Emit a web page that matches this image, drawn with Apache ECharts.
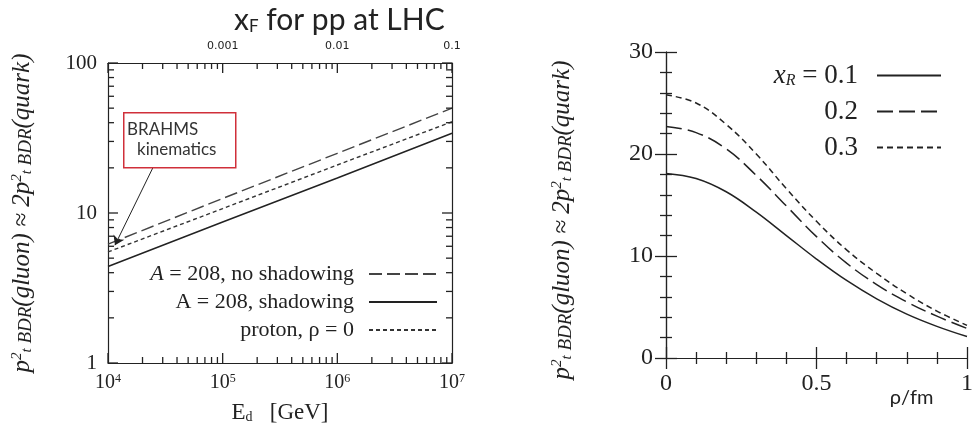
<!DOCTYPE html>
<html>
<head>
<meta charset="utf-8">
<script src="https://cdn.jsdelivr.net/npm/echarts@6/dist/echarts.min.js"></script>
<style>
  html, body { margin: 0; padding: 0; background: #fff; }
  #main { width: 976px; height: 433px; }
</style>
</head>
<body>
<div id="main"></div>
<script>
// left panel: Ed [GeV] vs pt^2 (log-log)
var ed = [1e4, 1e5, 1e6, 1e7];
var noShadow = [6.2, 12.5, 25, 50];
var shadow = [4.4, 8.7, 17.1, 34];
var proton = [5.5, 10.7, 20.9, 40.6];
var xfLabels = {'-3': '0.001', '-2': '0.01', '-1': '0.1'};
var edMajor = [1e4, 1e5, 1e6, 1e7];
var yMajor = [1, 10, 100];

// right panel: rho/fm
var rho = [0, 0.1, 0.2, 0.3, 0.4, 0.5, 0.6, 0.7, 0.8, 0.9, 1.0];
var xr1 = [18.1, 17.6, 16.3, 14.3, 12.0, 9.7, 7.6, 5.8, 4.3, 3.1, 2.1];
var xr2 = [22.7, 22.1, 20.5, 17.9, 14.9, 11.9, 9.3, 7.2, 5.5, 4.1, 2.9];
var xr3 = [25.8, 25.0, 22.9, 20.0, 16.6, 13.4, 10.6, 8.3, 6.3, 4.6, 3.2];

function pairs(xs, ys) {
  return xs.map(function (x, i) { return [x, ys[i]]; });
}
// 2..9 inside every decade, for the small log ticks
function minors(lo, decades) {
  var out = [];
  for (var d = 0; d < decades; d++) {
    for (var k = 2; k <= 9; k++) out.push(lo * Math.pow(10, d) * k);
  }
  return out;
}

var ink = '#222';
var serif = 'Liberation Serif';
var tw = 1.3;

// tick marks of the log frame, as thin bars sitting on the frame edges
var frameTicks = [];
function addX(vals, len) {
  vals.forEach(function (v) {
    frameTicks.push({ value: [v, 1], symbolSize: [tw, len], symbolOffset: [0, -len / 2] });
    frameTicks.push({ value: [v, 100], symbolSize: [tw, len], symbolOffset: [0, len / 2] });
  });
}
function addY(vals, len) {
  vals.forEach(function (v) {
    frameTicks.push({ value: [1e4, v], symbolSize: [len, tw], symbolOffset: [len / 2, 0] });
    frameTicks.push({ value: [1e7, v], symbolSize: [len, tw], symbolOffset: [-len / 2, 0] });
  });
}
addX(edMajor, 10); addX(minors(1e4, 3), 6);
addY(yMajor, 10); addY(minors(1, 2), 6);

var tick = { show: true, inside: true, length: 11, lineStyle: { color: ink, width: tw } };
var minor = { show: true, length: 6, splitNumber: 5, lineStyle: { color: ink, width: tw } };
var line = { lineStyle: { color: ink, width: 1.2 } };
var yName = '{p|p}{sup|2}{sub|t}{b| BDR}{p|(gluon) ≈ 2p}{sup|2}{sub|t}{b| BDR}{p|(quark)}';
function yNameStyle(pad) {
  return {
    fontFamily: serif, fontStyle: 'italic', color: ink, padding: pad,
    rich: {
      p: { fontSize: 25, fontFamily: serif, fontStyle: 'italic', color: ink },
      b: { fontSize: 19, fontFamily: serif, fontStyle: 'italic', color: ink, verticalAlign: 'bottom' },
      sup: { fontSize: 15, fontFamily: serif, fontStyle: 'italic', color: ink, verticalAlign: 'top' },
      sub: { fontSize: 15, fontFamily: serif, fontStyle: 'italic', color: ink, verticalAlign: 'bottom' }
    }
  };
}

var myChart = echarts.init(document.getElementById('main'));
var option = {
  animation: false,
  backgroundColor: '#fff',
  title: {
    text: '{a|x}{f|F}{a| for pp at LHC}',
    left: 229, top: 0,
    textStyle: {
      fontWeight: 'normal',
      rich: {
        a: { fontFamily: 'Lato', fontSize: 30, fontWeight: 'normal', color: ink },
        f: { fontFamily: 'Lato', fontSize: 17, fontWeight: 'normal', color: ink, verticalAlign: 'bottom' }
      }
    }
  },
  grid: [
    { left: 108, top: 63, width: 344, height: 300 },
    { left: 666, top: 52, right: 1, height: 306 }
  ],
  xAxis: [
    {
      type: 'log', gridIndex: 0, min: 1e4, max: 1e7, position: 'bottom',
      axisLine: line, axisTick: { show: false }, splitLine: { show: false },
      axisLabel: {
        margin: 10,
        formatter: function (v) { return '{b|10}{s|' + Math.round(Math.log10(v)) + '}'; },
        rich: {
          b: { fontFamily: serif, fontSize: 20, color: ink },
          s: { fontFamily: serif, fontSize: 12, color: ink, verticalAlign: 'top' }
        }
      },
      name: '{e|E}{d|d}{e|   [GeV]}', nameLocation: 'middle', nameGap: 38,
      nameTextStyle: {
        rich: {
          e: { fontFamily: serif, fontSize: 23, color: ink },
          d: { fontFamily: serif, fontSize: 14, color: ink, verticalAlign: 'bottom' }
        }
      }
    },
    {
      type: 'log', gridIndex: 0, min: 1e-4, max: 0.1, position: 'top',
      axisLine: line, axisTick: { show: false }, splitLine: { show: false },
      axisLabel: {
        margin: 11, fontFamily: 'DejaVu Sans', fontSize: 11, color: ink,
        formatter: function (v) { return xfLabels[Math.round(Math.log10(v))] || ''; }
      }
    },
    {
      type: 'value', gridIndex: 1, min: 0, max: 1, interval: 0.5, position: 'bottom',
      axisLine: line, axisTick: tick, minorTick: minor, splitLine: { show: false },
      axisLabel: { margin: 14, fontFamily: serif, fontSize: 24, color: ink },
      name: 'ρ/fm', nameLocation: 'middle', nameGap: 30, nameMoveOverlap: false,
      nameTextStyle: { fontFamily: 'Lato', fontSize: 20, color: ink, padding: [0, 0, 0, 190] }
    },
    {
      type: 'value', gridIndex: 1, min: 0, max: 1, interval: 0.5, position: 'top',
      axisLine: line, axisTick: tick, minorTick: minor, splitLine: { show: false },
      axisLabel: { show: false }
    }
  ],
  yAxis: [
    {
      type: 'log', gridIndex: 0, min: 1, max: 100, position: 'left',
      axisLine: line, axisTick: { show: false }, splitLine: { show: false },
      axisLabel: { margin: 11, fontFamily: serif, fontSize: 21, color: ink },
      name: yName, nameLocation: 'middle', nameRotate: 90, nameGap: 73,
      nameTextStyle: yNameStyle([0, 0, 0, 0])
    },
    {
      type: 'log', gridIndex: 0, min: 1, max: 100, position: 'right',
      axisLine: line, axisTick: { show: false }, splitLine: { show: false },
      axisLabel: { show: false }
    },
    {
      type: 'value', gridIndex: 1, min: 0, max: 30, interval: 10, position: 'left',
      axisLine: line, axisTick: tick, minorTick: minor, splitLine: { show: false },
      axisLabel: { margin: 13, fontFamily: serif, fontSize: 24, color: ink },
      name: yName, nameLocation: 'middle', nameRotate: 90, nameGap: 91,
      nameTextStyle: yNameStyle([0, 30, 0, 0])
    },
    {
      type: 'value', gridIndex: 1, min: 0, max: 30, interval: 10, position: 'right',
      axisLine: line, axisTick: tick, minorTick: minor, splitLine: { show: false },
      axisLabel: { show: false }
    }
  ],
  legend: [
    {
      orient: 'vertical', align: 'right', right: 538, top: 263, padding: 0,
      itemWidth: 68, itemHeight: 14, itemGap: 6,
      itemStyle: { opacity: 0 },
      data: ['A = 208, no shadowing', 'A = 208, shadowing', 'proton, ρ = 0'],
      formatter: function (n) {
        return n === 'A = 208, no shadowing' ? '{i|A}{n| = 208, no shadowing}' : '{n|' + n + '}';
      },
      textStyle: {
        fontFamily: serif, fontSize: 22, color: ink, padding: [0, 10, 0, 0],
        rich: {
          i: { fontFamily: serif, fontSize: 22, fontStyle: 'italic', color: ink },
          n: { fontFamily: serif, fontSize: 22, color: ink }
        }
      }
    },
    {
      orient: 'vertical', align: 'right', right: 34, top: 62, padding: 0,
      itemWidth: 64, itemHeight: 14, itemGap: 9,
      itemStyle: { opacity: 0 },
      data: ['0.1', '0.2', '0.3'],
      formatter: function (n) { return n === '0.1' ? '{i|x}{r|R}{n| = 0.1}' : '{n|' + n + '}'; },
      textStyle: {
        fontFamily: serif, fontSize: 27, color: ink, padding: [0, 14, 0, 0],
        rich: {
          i: { fontFamily: serif, fontSize: 27, fontStyle: 'italic', color: ink },
          r: { fontFamily: serif, fontSize: 16, fontStyle: 'italic', color: ink, verticalAlign: 'bottom' },
          n: { fontFamily: serif, fontSize: 27, color: ink }
        }
      }
    }
  ],
  graphic: [
    {
      type: 'rect', left: 123, top: 112, z: 10,
      shape: { width: 112, height: 55 },
      style: { fill: '#fff', stroke: '#d0303a', lineWidth: 1.5 }
    },
    {
      type: 'text', left: 127, top: 121, z: 11,
      style: { text: 'BRAHMS', font: '17px Lato', fill: '#333' }
    },
    {
      type: 'text', left: 137, top: 141, z: 11,
      style: { text: 'kinematics', font: '17px Lato', fill: '#333' }
    }
  ],
  series: [
    {
      type: 'scatter', xAxisIndex: 0, yAxisIndex: 0, silent: true, clip: false,
      symbol: 'rect', data: frameTicks, itemStyle: { color: ink, opacity: 1 }, z: 3
    },
    {
      name: 'A = 208, no shadowing', type: 'line', xAxisIndex: 0, yAxisIndex: 0,
      data: pairs(ed, noShadow), symbol: 'none',
      lineStyle: { color: '#444', width: 1.4, type: [13, 5] }, itemStyle: { color: '#444' },
      markLine: {
        silent: true, symbol: ['none', 'arrow'], symbolSize: 9,
        label: { show: false },
        lineStyle: { color: ink, width: 1, type: 'solid' },
        data: [[{ coord: [2.46e4, 20] }, { coord: [1.15e4, 6.1] }]]
      }
    },
    {
      name: 'A = 208, shadowing', type: 'line', xAxisIndex: 0, yAxisIndex: 0,
      data: pairs(ed, shadow), symbol: 'none',
      lineStyle: { color: ink, width: 1.5 }, itemStyle: { color: ink }
    },
    {
      name: 'proton, ρ = 0', type: 'line', xAxisIndex: 0, yAxisIndex: 0,
      data: pairs(ed, proton), symbol: 'none',
      lineStyle: { color: '#333', width: 1.4, type: [4, 3] }, itemStyle: { color: '#333' }
    },
    {
      name: '0.1', type: 'line', xAxisIndex: 2, yAxisIndex: 2, smooth: 0.4,
      data: pairs(rho, xr1), symbol: 'none',
      lineStyle: { color: ink, width: 1.5 }, itemStyle: { color: ink }
    },
    {
      name: '0.2', type: 'line', xAxisIndex: 2, yAxisIndex: 2, smooth: 0.4,
      data: pairs(rho, xr2), symbol: 'none',
      lineStyle: { color: ink, width: 1.5, type: [16, 6] }, itemStyle: { color: ink }
    },
    {
      name: '0.3', type: 'line', xAxisIndex: 2, yAxisIndex: 2, smooth: 0.4,
      data: pairs(rho, xr3), symbol: 'none',
      lineStyle: { color: ink, width: 1.5, type: [6, 4] }, itemStyle: { color: ink }
    }
  ]
};
myChart.setOption(option);
</script>
</body>
</html>
